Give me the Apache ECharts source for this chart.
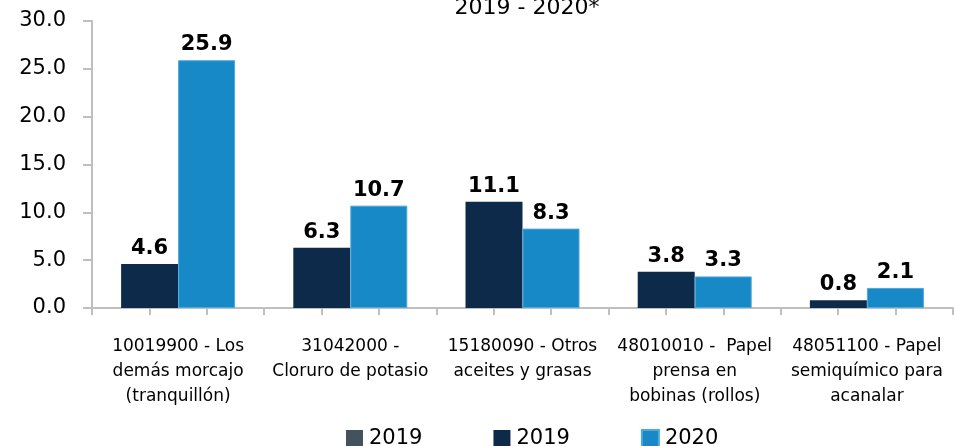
<!DOCTYPE html>
<html>
<head>
<meta charset="utf-8">
<script src="https://cdn.jsdelivr.net/npm/echarts@6/dist/echarts.min.js"></script>
<style>
  html, body { margin: 0; padding: 0; background: #fff; }
  #chart { width: 955px; height: 446px; }
</style>
</head>
<body>
<div id="chart"></div>
<script>
const categories = [
  "10019900 - Los\ndemás morcajo\n(tranquillón)",
  "31042000 -\nCloruro de potasio",
  "15180090 - Otros\naceites y grasas",
  "48010010 -  Papel\nprensa en\nbobinas (rollos)",
  "48051100 - Papel\nsemiquímico para\nacanalar"
];
const values2019 = [4.6, 6.3, 11.1, 3.8, 0.8];
const values2020 = [25.9, 10.7, 8.3, 3.3, 2.1];
const yTicks = [0, 5, 10, 15, 20, 25, 30];

const font = "DejaVu Sans";
const chart = echarts.init(document.getElementById("chart"));

// minor ticks: three per category
const tickSlots = [];
categories.forEach((c, i) => tickSlots.push(i + "a", i + "b", i + "c"));

const labelStyle = {
  show: true,
  position: "top",
  distance: 5,
  color: "#000",
  fontFamily: font,
  fontWeight: "bold",
  fontSize: 21,
  formatter: p => p.value.toFixed(1)
};

chart.setOption({
  animation: false,
  textStyle: { fontFamily: font },
  title: {
    text: "2019 - 2020*",
    left: 522,
    textAlign: "center",
    top: -8,
    textStyle: { fontFamily: font, fontWeight: "normal", fontSize: 22, color: "#000" }
  },
  legend: {
    bottom: -8,
    left: 341,
    icon: "rect",
    itemWidth: 17,
    itemHeight: 17,
    itemGap: 71,
    formatter: n => n.trim(),
    textStyle: { fontFamily: font, fontSize: 21, color: "#000", padding: [0, 0, 0, 1] },
    data: ["2019 ", "2019", "2020"]
  },
  grid: { left: 92, right: 2, top: 21, bottom: 138, containLabel: false },
  xAxis: [
    {
      type: "category",
      data: categories,
      axisLine: { show: true, lineStyle: { color: "#BFBFBF", width: 2 } },
      axisTick: { show: false },
      axisLabel: {
        interval: 0,
        margin: 26,
        fontFamily: font,
        fontSize: 17,
        lineHeight: 25,
        color: "#000",
        align: "center"
      }
    },
    {
      type: "category",
      data: tickSlots,
      position: "bottom",
      axisLine: { show: false },
      axisTick: { show: true, length: 7, lineStyle: { color: "#BFBFBF", width: 2 } },
      axisLabel: { show: false }
    }
  ],
  yAxis: {
    type: "value",
    min: 0,
    max: 30,
    interval: 5,
    axisLine: { show: true, lineStyle: { color: "#BFBFBF", width: 2 } },
    axisTick: { show: true, length: 9, lineStyle: { color: "#BFBFBF", width: 2 } },
    splitLine: { show: false },
    axisLabel: {
      margin: 26,
      fontFamily: font,
      fontSize: 21,
      color: "#000",
      formatter: v => yTicks.includes(v) ? v.toFixed(1) : ""
    }
  },
  series: [
    {
      name: "2019 ",
      type: "bar",
      xAxisIndex: 1,
      data: [],
      itemStyle: { color: "#44525E" }
    },
    {
      name: "2019",
      type: "bar",
      data: values2019,
      barWidth: 57,
      barGap: "0%",
      itemStyle: { color: "#0E2A4A" },
      label: labelStyle
    },
    {
      name: "2020",
      type: "bar",
      data: values2020,
      barWidth: 57,
      barGap: "0%",
      itemStyle: { color: "#1789C6", borderColor: "#4FA8DA", borderWidth: 1 },
      label: labelStyle
    }
  ]
});
</script>
</body>
</html>
